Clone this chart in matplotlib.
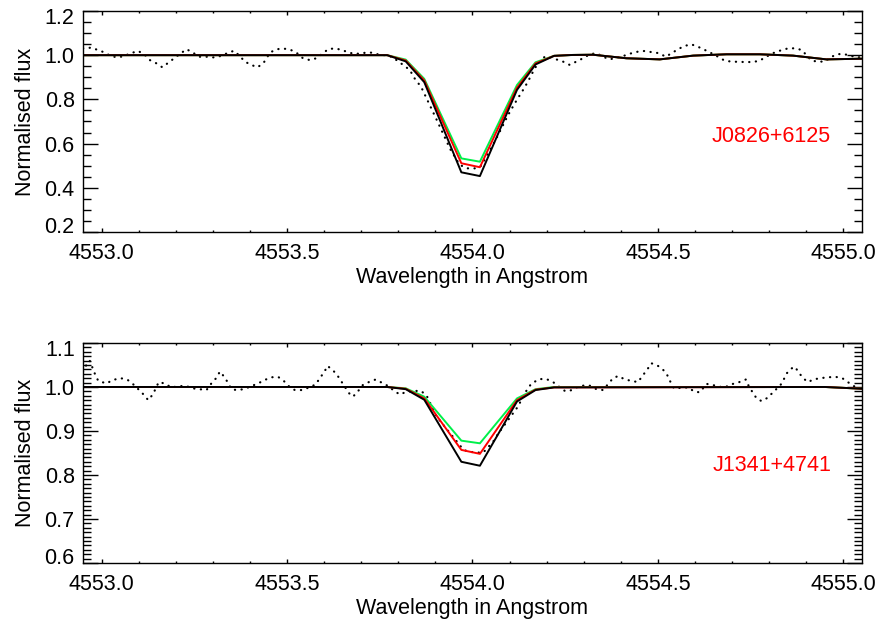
import numpy as np
import matplotlib
matplotlib.use('Agg')
import matplotlib.pyplot as plt
import matplotlib.transforms as mtransforms
from matplotlib.ticker import MultipleLocator

plt.rcParams['font.family'] = ['Liberation Sans', 'DejaVu Sans']

# ---- J0826+6125 : observed spectrum (dotted) ----
wl_obs1 = [4552.950, 4552.973, 4552.989, 4553.007, 4553.025, 4553.043, 4553.061, 4553.079,
           4553.099, 4553.117, 4553.130, 4553.148, 4553.164, 4553.180, 4553.196, 4553.211,
           4553.229, 4553.245, 4553.263, 4553.283, 4553.301, 4553.321, 4553.339, 4553.357,
           4553.373, 4553.386, 4553.404, 4553.420, 4553.436, 4553.455, 4553.473, 4553.491,
           4553.510, 4553.527, 4553.543, 4553.561, 4553.579, 4553.597, 4553.611, 4553.629,
           4553.647, 4553.665, 4553.683, 4553.701, 4553.723, 4553.741, 4553.759, 4553.777,
           4553.795, 4553.813, 4553.831, 4553.844, 4553.862, 4553.900, 4553.940, 4553.965,
           4553.984, 4554.006, 4554.024, 4554.042, 4554.060, 4554.078, 4554.096, 4554.114,
           4554.128, 4554.141, 4554.154, 4554.168, 4554.190, 4554.208, 4554.226, 4554.244,
           4554.262, 4554.280, 4554.298, 4554.316, 4554.334, 4554.352, 4554.370, 4554.406,
           4554.429, 4554.446, 4554.464, 4554.482, 4554.503, 4554.521, 4554.539, 4554.554,
           4554.572, 4554.590, 4554.608, 4554.626, 4554.644, 4554.662, 4554.680, 4554.698,
           4554.734, 4554.756, 4554.774, 4554.792, 4554.810, 4554.828, 4554.851, 4554.869,
           4554.887, 4554.900, 4554.914, 4554.932, 4554.950, 4554.968, 4554.986, 4555.004,
           4555.022, 4555.044]
fx_obs1 = [1.031, 1.034, 1.024, 1.013, 0.996, 0.990, 0.996, 1.009,
           1.019, 1.001, 0.978, 0.963, 0.945, 0.966, 0.986, 1.005,
           1.027, 1.013, 0.993, 0.993, 0.990, 0.996, 1.009, 1.020,
           0.996, 0.971, 0.956, 0.945, 0.963, 1.013, 1.027, 1.030,
           1.024, 1.009, 0.986, 0.978, 0.986, 1.009, 1.027, 1.031,
           1.024, 1.013, 1.005, 1.009, 1.013, 1.005, 1.001, 0.996,
           0.978, 0.956, 0.933, 0.895, 0.855, 0.720, 0.575, 0.505,
           0.488, 0.488, 0.500, 0.556, 0.609, 0.669, 0.729, 0.782,
           0.820, 0.855, 0.895, 0.941, 0.990, 0.993, 0.981, 0.971,
           0.956, 0.971, 0.986, 1.004, 1.009, 0.993, 0.981, 0.996,
           1.009, 1.016, 1.019, 1.014, 1.009, 0.993, 1.011, 1.027,
           1.042, 1.049, 1.038, 1.024, 1.009, 0.993, 0.975, 0.971,
           0.969, 0.969, 0.975, 0.993, 1.009, 1.020, 1.031, 1.031,
           1.024, 1.001, 0.975, 0.971, 0.971, 0.993, 1.005, 1.004,
           0.996, 0.990]

# ---- J0826+6125 : model spectra ----
wl_mod1 = [4552.95, 4553.77, 4553.82, 4553.87, 4553.97, 4554.02, 4554.12, 4554.17,
           4554.22, 4554.27, 4554.325, 4554.415, 4554.505, 4554.595, 4554.685, 4554.774,
           4554.864, 4554.954, 4555.05]
fx_black1 = [1.0, 1.0, 0.972, 0.878, 0.470, 0.453, 0.843, 0.958,
             0.997, 1.001, 1.002, 0.986, 0.981, 0.998, 1.004, 1.004,
             0.998, 0.981, 0.984]
fx_red1 = [1.0, 1.0, 0.976, 0.886, 0.511, 0.493, 0.853, 0.963,
           0.997, 1.001, 1.002, 0.986, 0.981, 0.998, 1.004, 1.004,
           0.998, 0.981, 0.984]
fx_green1 = [1.0, 1.0, 0.980, 0.893, 0.533, 0.518, 0.865, 0.968,
             0.997, 1.001, 1.002, 0.986, 0.981, 0.998, 1.004, 1.004,
             0.998, 0.981, 0.984]

# ---- J1341+4741 : observed spectrum (dotted) ----
wl_obs2 = [4552.950, 4552.959, 4552.968, 4552.975, 4552.982, 4552.991, 4553.013, 4553.031,
           4553.051, 4553.069, 4553.083, 4553.099, 4553.112, 4553.126, 4553.139, 4553.154,
           4553.170, 4553.188, 4553.211, 4553.229, 4553.245, 4553.265, 4553.283, 4553.296,
           4553.310, 4553.319, 4553.328, 4553.340, 4553.350, 4553.364, 4553.384, 4553.404,
           4553.422, 4553.440, 4553.458, 4553.476, 4553.491, 4553.507, 4553.521, 4553.539,
           4553.560, 4553.578, 4553.588, 4553.600, 4553.609, 4553.622, 4553.633, 4553.647,
           4553.667, 4553.678, 4553.692, 4553.705, 4553.723, 4553.739, 4553.755, 4553.773,
           4553.789, 4553.804, 4553.822, 4553.844, 4553.861, 4553.876, 4553.903, 4553.925,
           4553.975, 4553.988, 4554.011, 4554.029, 4554.056, 4554.067, 4554.078, 4554.123,
           4554.141, 4554.159, 4554.181, 4554.199, 4554.216, 4554.231, 4554.249, 4554.262,
           4554.280, 4554.298, 4554.316, 4554.334, 4554.352, 4554.366, 4554.379, 4554.393,
           4554.411, 4554.429, 4554.446, 4554.460, 4554.473, 4554.482, 4554.500, 4554.514,
           4554.525, 4554.534, 4554.543, 4554.563, 4554.581, 4554.599, 4554.613, 4554.631,
           4554.646, 4554.662, 4554.680, 4554.698, 4554.719, 4554.737, 4554.743, 4554.755,
           4554.766, 4554.779, 4554.797, 4554.810, 4554.828, 4554.836, 4554.846, 4554.860,
           4554.869, 4554.878, 4554.891, 4554.905, 4554.918, 4554.938, 4554.958, 4554.979,
           4554.997, 4555.012, 4555.030, 4555.044]
fx_obs2 = [1.035, 1.050, 1.060, 1.045, 1.030, 1.014, 1.008, 1.016,
           1.020, 1.017, 1.008, 0.995, 0.984, 0.970, 0.984, 1.011,
           1.008, 0.999, 1.002, 1.002, 0.997, 0.995, 0.993, 1.008,
           1.021, 1.035, 1.026, 1.011, 0.995, 0.993, 0.995, 1.002,
           1.008, 1.016, 1.022, 1.023, 1.014, 1.000, 0.993, 0.993,
           0.999, 1.006, 1.020, 1.033, 1.048, 1.039, 1.030, 1.012,
           0.986, 0.978, 0.991, 1.005, 1.012, 1.017, 1.010, 1.002,
           0.991, 0.983, 0.989, 0.991, 0.991, 0.981, 0.933, 0.910,
           0.858, 0.853, 0.851, 0.851, 0.876, 0.891, 0.904, 0.956,
           0.986, 1.008, 1.018, 1.018, 1.012, 1.002, 0.991, 0.991,
           0.999, 1.003, 1.003, 0.995, 0.993, 1.007, 1.020, 1.025,
           1.017, 1.014, 1.011, 1.027, 1.042, 1.054, 1.048, 1.039,
           1.027, 1.011, 0.997, 0.998, 0.999, 0.989, 0.988, 1.007,
           1.005, 1.001, 0.999, 1.006, 1.011, 1.017, 1.005, 0.988,
           0.974, 0.968, 0.976, 0.988, 1.002, 1.011, 1.030, 1.042,
           1.046, 1.035, 1.020, 1.011, 1.017, 1.020, 1.022, 1.023,
           1.020, 1.011, 1.001, 0.999]

# ---- J1341+4741 : model spectra ----
wl_mod2 = [4552.95, 4553.77, 4553.82, 4553.87, 4553.97, 4554.02, 4554.12, 4554.17,
           4554.22, 4554.95, 4555.05]
fx_black2 = [1.0, 1.0, 0.995, 0.971, 0.830, 0.821, 0.967, 0.993, 0.999, 1.0, 0.996]
fx_red2 = [1.0, 1.0, 0.996, 0.974, 0.857, 0.848, 0.970, 0.994, 0.999, 1.0, 0.996]
fx_green2 = [1.0, 1.0, 0.997, 0.978, 0.878, 0.872, 0.974, 0.995, 1.0, 1.0, 0.996]

names = ['J0826+6125', 'J1341+4741']
name_y = [0.43, 0.445]
ylims = [(0.2, 1.2), (0.6, 1.1)]
ymajor = [0.2, 0.1]
yminor = [0.05, 0.01]

green = '#00f04a'
fs = 15.5

fig = plt.figure(figsize=(8.81, 6.27), dpi=100)
ax1 = fig.add_axes([0.0942, 0.630, 0.8842, 0.3525])
ax2 = fig.add_axes([0.0942, 0.1021, 0.8842, 0.3509])

panels = [
    (ax1, wl_obs1, fx_obs1, wl_mod1, fx_black1, fx_red1, fx_green1),
    (ax2, wl_obs2, fx_obs2, wl_mod2, fx_black2, fx_red2, fx_green2),
]

for i, (ax, wo, fo, wm, fb, fr, fg) in enumerate(panels):
    ax.plot(wo, fo, color='black', lw=1.6, linestyle=(0, (0.1, 2.9)),
            dash_capstyle='round')
    ax.plot(wm, fg, color=green, lw=1.4)
    ax.plot(wm, fr, color='red', lw=1.4)
    ax.plot(wm, fb, color='black', lw=1.4)

    ax.set_xlim(4552.95, 4555.05)
    ax.set_ylim(*ylims[i])
    ax.xaxis.set_major_locator(MultipleLocator(0.5))
    ax.xaxis.set_minor_locator(MultipleLocator(0.1))
    ax.yaxis.set_major_locator(MultipleLocator(ymajor[i]))
    ax.yaxis.set_minor_locator(MultipleLocator(yminor[i]))
    ax.xaxis.set_major_formatter(plt.FormatStrFormatter('%.1f'))
    ax.yaxis.set_major_formatter(plt.FormatStrFormatter('%.1f'))

    ax.tick_params(axis='both', which='both', direction='in', top=True, right=True,
                   labelsize=fs, width=1.0)
    ax.tick_params(axis='x', which='major', length=3.2, pad=8)
    ax.tick_params(axis='x', which='minor', length=1.6)
    ax.tick_params(axis='y', which='major', length=11, pad=6)
    ax.tick_params(axis='y', which='minor', length=5.5)
    for s in ax.spines.values():
        s.set_linewidth(1.0)

    ax.set_xlabel('Wavelength in Angstrom', fontsize=fs, labelpad=2)
    ax.set_ylabel('Normalised flux', fontsize=fs, labelpad=6)
    ax.text(0.884, name_y[i], names[i], color='red', fontsize=fs,
            transform=ax.transAxes, ha='center', va='center')

    # end labels sit a little inside the axis range, as in the original
    ticks = ax.yaxis.get_major_ticks()
    locs = ax.yaxis.get_majorticklocs()
    lo, hi = ylims[i]
    for t, v in zip(ticks, locs):
        if abs(v - hi) < 1e-6:
            off = mtransforms.ScaledTranslation(0, -5 / 100, fig.dpi_scale_trans)
            t.label1.set_transform(t.label1.get_transform() + off)
        elif abs(v - lo) < 1e-6:
            off = mtransforms.ScaledTranslation(0, 7 / 100, fig.dpi_scale_trans)
            t.label1.set_transform(t.label1.get_transform() + off)

fig.savefig('out.png', dpi=100)
